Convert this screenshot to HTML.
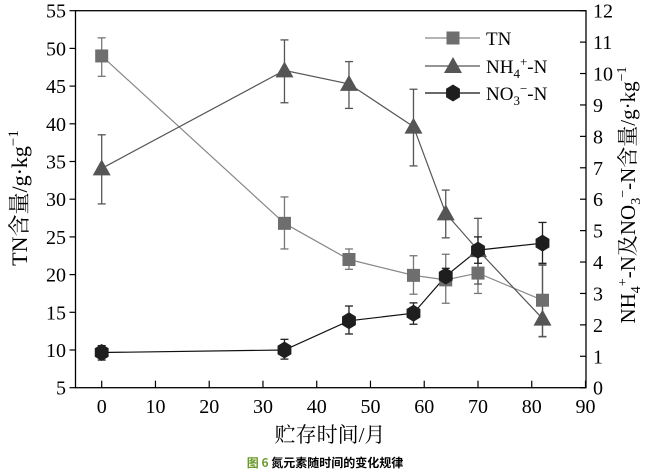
<!DOCTYPE html>
<html><head><meta charset="utf-8"><style>
html,body{margin:0;padding:0;background:#fff;width:652px;height:472px;overflow:hidden}
svg{display:block}
</style></head><body>
<svg id="s" width="652" height="472" xmlns="http://www.w3.org/2000/svg" font-family="Liberation Serif, 'Noto Serif CJK SC', serif"></svg>
<script>
const s=document.getElementById('s');
const X0=75.5,X1=586,T=10.7,B=387.7;
const fx=v=>101.7+v*(585.5-101.7)/90;
const fl=v=>B-(v-5)*(B-T)/50;
const fr=v=>B-v*(B-T)/12;
let h='';
h+=`<rect x="${X0}" y="${T}" width="${X1-X0}" height="${B-T}" fill="none" stroke="#000" stroke-width="1.3"/>`;
for(let v=5;v<=55;v+=5){const y=fl(v);h+=`<line x1="${X0-6}" x2="${X0}" y1="${y}" y2="${y}" stroke="#000" stroke-width="1.2"/><text x="66" y="${y+7}" font-size="20" text-anchor="end">${v}</text>`;}
for(let v=0;v<=12;v++){const y=fr(v);h+=`<line x1="${X1-6}" x2="${X1}" y1="${y}" y2="${y}" stroke="#000" stroke-width="1.2"/><text x="593" y="${y+7}" font-size="20">${v}</text>`;}
for(let v=0;v<=90;v+=10){const x=fx(v);h+=`<line x1="${x}" x2="${x}" y1="${B-7}" y2="${B}" stroke="#000" stroke-width="1.2"/><text x="${x}" y="413" font-size="20" text-anchor="middle">${v}</text>`;}
const TN=[[0,49,46.3,51.4],[34,26.8,23.4,30.3],[46,22,20.7,23.4],[58,19.9,17.4,22.5],[64,19.3,16.2,22.7],[70,20.2,17.5,22.8],[82,16.6,11.8,21.4]];
const NH=[[0,6.98,5.85,8.05],[34,10.1,9.07,11.07],[46,9.67,8.89,10.38],[58,8.31,7.06,9.5],[64,5.55,4.77,6.29],[70,4.38,3.3,5.39],[82,2.2,1.62,3.9]];
const NO=[[0,1.12,0.88,1.34],[34,1.2,0.91,1.54],[46,2.13,1.71,2.6],[58,2.37,2.02,2.7],[64,3.55,3.3,3.8],[70,4.38,3.96,4.8],[82,4.6,3.96,5.26]];
function series(d,f,col,lc){
 let p=d.map(r=>`${fx(r[0])},${f(r[1])}`).join(' ');
 let o=`<polyline points="${p}" fill="none" stroke="${lc}" stroke-width="1.2"/>`;
 d.forEach(r=>{const x=fx(r[0]);o+=`<g stroke="${col}" stroke-width="1.3"><line x1="${x}" x2="${x}" y1="${f(r[2])}" y2="${f(r[3])}"/><line x1="${x-4}" x2="${x+4}" y1="${f(r[2])}" y2="${f(r[2])}"/><line x1="${x-4}" x2="${x+4}" y1="${f(r[3])}" y2="${f(r[3])}"/></g>`});
 return o;}
function sq(x,y,c){return `<rect x="${x-6.5}" y="${y-6.5}" width="13" height="13" fill="${c}"/>`}
function tri(x,y,c){return `<polygon points="${x},${y-9} ${x-9},${y+7} ${x+9},${y+7}" fill="${c}"/>`}
function hex(x,y,c){let p=[];for(let i=0;i<6;i++){const a=Math.PI/3*i+Math.PI/6;p.push(`${x+8*Math.cos(a)},${y+8.5*Math.sin(a)}`)}return `<polygon points="${p.join(' ')}" fill="${c}"/>`}
h+=series(TN,fl,'#777','#888');
h+=series(NH,fr,'#555','#555');
h+=series(NO,fr,'#222','#111');
TN.forEach(r=>h+=sq(fx(r[0]),fl(r[1]),'#6e6e6e'));
NH.forEach(r=>h+=tri(fx(r[0]),fr(r[1]),'#555'));
NO.forEach(r=>h+=hex(fx(r[0]),fr(r[1]),'#1e1e1e'));
h+=`<line x1="425" x2="480" y1="38" y2="38" stroke="#888" stroke-width="1.2"/>`+sq(453,38,'#6e6e6e')+`<text x="486" y="45" font-size="19">TN</text>`;
h+=`<line x1="425" x2="480" y1="66" y2="66" stroke="#555" stroke-width="1.2"/>`+tri(453,66,'#555')+`<text x="486" y="73" font-size="19">NH<tspan font-size="13" dy="5">4</tspan><tspan font-size="13" dy="-12">+</tspan><tspan dy="7">-N</tspan></text>`;
h+=`<line x1="425" x2="480" y1="93" y2="93" stroke="#111" stroke-width="1.2"/>`+hex(453,93,'#1e1e1e')+`<text x="486" y="100" font-size="19">NO<tspan font-size="13" dy="5">3</tspan><tspan font-size="13" dy="-12">−</tspan><tspan dy="7">-N</tspan></text>`;
h+=`<text transform="translate(27,198) rotate(-90)" font-size="22" text-anchor="middle">TN含量/g·kg<tspan font-size="15" dy="-9">−1</tspan></text>`;
h+=`<text transform="translate(635,195) rotate(-90)" font-size="21" text-anchor="middle">NH<tspan font-size="14" dy="5">4</tspan><tspan font-size="14" dy="-13">+</tspan><tspan dy="8">-N及NO</tspan><tspan font-size="14" dy="5">3</tspan><tspan font-size="14" dy="-13">−</tspan><tspan dy="8">-N含量/g·kg</tspan><tspan font-size="14" dy="-9">−1</tspan></text>`;
h+=`<text x="330" y="442" font-size="21" text-anchor="middle">贮存时间/月</text>`;
h+=`<text x="325" y="467" font-size="12" font-weight="bold" text-anchor="middle" font-family="'Noto Sans CJK SC',sans-serif"><tspan fill="#6a9a2a">图 6 </tspan>氮元素随时间的变化规律</text>`;
s.innerHTML=h;
</script>
</body></html>
